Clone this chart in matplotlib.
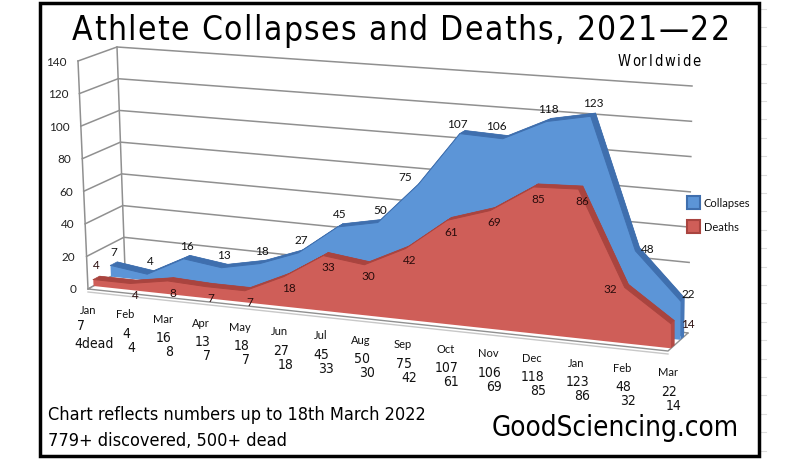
import numpy as np
import matplotlib
matplotlib.use("Agg")
import matplotlib.pyplot as plt
from matplotlib.patches import Polygon, Rectangle

# data
months = ["Jan", "Feb", "Mar", "Apr", "May", "Jun", "Jul", "Aug", "Sep",
          "Oct", "Nov", "Dec", "Jan", "Feb", "Mar"]
collapses = [7, 4, 16, 13, 18, 27, 45, 50, 75, 107, 106, 118, 123, 48, 22]
deaths = [4, 4, 8, 7, 7, 18, 33, 30, 42, 61, 69, 85, 86, 32, 14]
y_ticks = [0, 20, 40, 60, 80, 100, 120, 140]
vmax = 140

title = "Athlete Collapses and Deaths, 2021\u201422"
note1 = "Chart reflects numbers up to 18th March 2022"
note2 = "779+ discovered, 500+ dead"

# screen corners (px) of the fake 3D box: (x end, value end, depth end)
corners = {
    (0, 0, 0): (88, 290), (0, 1, 0): (78, 62),
    (0, 0, 1): (125, 270), (0, 1, 1): (117, 48),
    (1, 0, 0): (668, 352), (1, 1, 0): (666, 106),
    (1, 0, 1): (688, 334), (1, 1, 1): (692, 87),
}
persp = 1.123
n = len(months)


def proj(i, v, d):
    t = np.asarray(i, float) / (n - 1)
    t = t / (t + persp * (1 - t))
    u = np.asarray(v, float) / vmax
    x = 0.0
    y = 0.0
    for (a, b, c), (px, py) in corners.items():
        w = (t if a else 1 - t) * (u if b else 1 - u) * (d if c else 1 - d)
        x = x + w * px
        y = y + w * py
    return x, y


fig = plt.figure(figsize=(8, 4.6), dpi=100)
ax = fig.add_axes([0, 0, 1, 1])
ax.set_xlim(0, 800)
ax.set_ylim(460, 0)
ax.axis("off")
rend = fig.canvas.get_renderer()

narrow = ["DejaVu Sans", "Liberation Sans"]
lab = ["Lato", "DejaVu Sans"]
grid_c = "#909090"


def text_w(s, **kw):
    # width in px, measured with a trailing bar so spaces count
    t = ax.text(0, 0, s + "|", **kw)
    b = ax.text(0, 0, "|", **kw)
    w = t.get_window_extent(rend).width - b.get_window_extent(rend).width
    t.remove()
    b.remove()
    return w


def spaced(xc, y, s, track, **kw):
    total = text_w(s, **kw) + track * (len(s) - 1)
    x0 = xc - total / 2
    for k, ch in enumerate(s):
        if ch == " ":
            continue
        ax.text(x0 + text_w(s[:k], **kw) + k * track, y, ch, ha="left",
                va="center", **kw)


# faint spreadsheet row marks outside the frame
for yy in np.arange(10, 460, 18.4):
    ax.plot([761, 766], [yy, yy], color="#dcdcdc", lw=0.8, zorder=0)

# walls and grid
for v in y_ticks:
    x0, y0 = proj(0, v, 0)
    x1, y1 = proj(0, v, 1)
    x2, y2 = proj(n - 1, v, 1)
    ax.plot([x0, x1, x2], [y0, y1, y2], color=grid_c, lw=1.1, zorder=1)
    ax.text(x0 - 11, y0, str(v), ha="right", va="center", fontsize=8.5,
            family=lab, color="#222222")
for d in (0, 1):
    xa, ya = proj(0, 0, d)
    xb, yb = proj(0, vmax, d)
    ax.plot([xa, xb], [ya, yb], color=grid_c, lw=1.1, zorder=1)

# floor
fx, fy = zip(*[proj(0, 0, 0), proj(n - 1, 0, 0), proj(n - 1, 0, 1), proj(0, 0, 1)])
ax.add_patch(Polygon(np.column_stack([fx, fy]), closed=True, fc="white",
                     ec=grid_c, lw=1.0, zorder=2))
ax.plot([fx[0], fx[1]], [fy[0] + 3, fy[1] + 3], color="#c8c8c8", lw=1.0, zorder=2)


def draw_series(vals, d0, d1, face, top, side, z):
    idx = np.arange(n)
    vals = np.asarray(vals, float)
    bx, by = proj(idx, vals, d1)
    b0x, b0y = proj(idx, 0 * vals, d1)
    back = np.column_stack([np.r_[bx, b0x[::-1]], np.r_[by, b0y[::-1]]])
    ax.add_patch(Polygon(back, closed=True, fc=top, ec="none", zorder=z))
    fxs, fys = proj(idx, vals, d0)
    for k in range(n - 1):
        quad = [(fxs[k], fys[k]), (fxs[k + 1], fys[k + 1]),
                (bx[k + 1], by[k + 1]), (bx[k], by[k])]
        ax.add_patch(Polygon(quad, closed=True, fc=top, ec=top, lw=0.5, zorder=z))
    e0 = proj(n - 1, 0, d0)
    e1 = proj(n - 1, vals[-1], d0)
    e2 = proj(n - 1, vals[-1], d1)
    e3 = proj(n - 1, 0, d1)
    ax.add_patch(Polygon([e0, e1, e2, e3], closed=True, fc=side, ec="none", zorder=z))
    f0x, f0y = proj(idx, 0 * vals, d0)
    front = np.column_stack([np.r_[fxs, f0x[::-1]], np.r_[fys, f0y[::-1]]])
    ax.add_patch(Polygon(front, closed=True, fc=face, ec="none", zorder=z + 0.5))
    ax.plot(fxs, fys, color=top, lw=0.7, zorder=z + 0.6)


draw_series(collapses, 0.62, 0.8, "#5c95d7", "#3f6fae", "#4677b8", 3)
draw_series(deaths, 0.15, 0.32, "#cf5e58", "#a9443f", "#b34a45", 5)

# data labels (small nudges where Excel pushed them aside)
col_nudge = {8: (-16, 6), 9: (-5, 3), 10: (-9, 0), 13: (10, 11), 14: (6, 6)}
for i, v in enumerate(collapses):
    x, y = proj(i, v, 0.7)
    dx, dy = col_nudge.get(i, (0, 0))
    ax.text(x + dx, y - 12 + dy, str(v), ha="center", va="center", fontsize=8.5,
            family=lab, color="#111111", zorder=8)
for i, v in enumerate(deaths):
    x, y = proj(i, v, 0.3)
    dx, dy = 0, 14
    if i == 0:
        x, y = proj(i, v, 0)
        dx, dy = 9, -18
    elif i == n - 2:
        dx, dy = -18, 4
    elif i == n - 1:
        x, y = proj(i, v, 0.15)
        dx, dy = 17, 0
    ax.text(x + dx, y + dy, str(v), ha="center", va="center", fontsize=8.5,
            family=lab, color="#2a0c0c", zorder=8)

# month labels with the typed numbers under them
for i, m in enumerate(months):
    x, y = proj(i, 0, 0)
    y = y + 21
    ax.text(x, y, m, ha="center", va="center", fontsize=8, family=lab,
            color="#111111", zorder=8)
    cx, cy = (x - 7, y + 15) if i == 0 else (x + 1, y + 19)
    ax.text(cx, cy, str(collapses[i]), ha="center", va="center", fontsize=10,
            family=narrow, stretch="condensed", color="#111111", zorder=8)
    dtxt = f"{deaths[i]}dead" if i == 0 else str(deaths[i])
    ax.text(x + 6, y + 33, dtxt, ha="center", va="center", fontsize=10,
            family=narrow, stretch="condensed", color="#111111", zorder=8)

# legend
for k, (name, fc, ec) in enumerate([("Collapses", "#5c95d7", "#3f6fae"),
                                     ("Deaths", "#cf5e58", "#a9443f")]):
    ax.add_patch(Rectangle((687, 197 + 24 * k), 13, 13, fc=fc, ec=ec, lw=1.5, zorder=8))
    ax.text(704, 204 + 24 * k, name, ha="left", va="center", fontsize=8,
            family=lab, color="#111111", zorder=8)

# titles and notes
spaced(401, 31, title, 1.4, fontsize=24, family=narrow, stretch="condensed",
       color="black")
spaced(659, 61, "Worldwide", 1.8, fontsize=10.5, family=narrow,
       stretch="condensed", color="black")
ax.text(48, 415, note1, ha="left", va="center", fontsize=13, family=narrow,
        stretch="condensed", color="black")
ax.text(48, 441, note2, ha="left", va="center", fontsize=13, family=narrow,
        stretch="condensed", color="black")
ax.text(615, 428, "GoodSciencing.com", ha="center", va="center", fontsize=20,
        family=narrow, stretch="condensed", color="black")

ax.add_patch(Rectangle((40, 4), 719, 453, fill=False, ec="black", lw=2.5, zorder=10))

fig.savefig("out.png", dpi=100)
